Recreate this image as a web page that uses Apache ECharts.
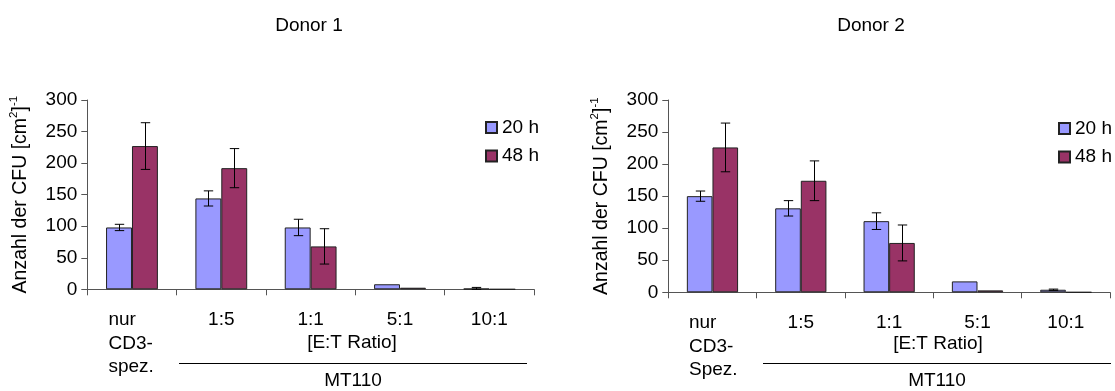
<!DOCTYPE html>
<html>
<head>
<meta charset="utf-8">
<script src="https://cdn.jsdelivr.net/npm/echarts@6/dist/echarts.min.js"></script>
<style>html,body{margin:0;padding:0;background:#fff}#c{width:1115px;height:391px}</style>
</head>
<body>
<div id="c"></div>
<script>
// ---- data ----
const categoriesDonor1 = ['nur\nCD3-\nspez.', '1:5', '1:1', '5:1', '10:1'];
const categoriesDonor2 = ['nur\nCD3-\nSpez.', '1:5', '1:1', '5:1', '10:1'];
const seriesNames = ['20 h', '48 h'];
const donor1_20h = [98, 144, 98, 8, 1];
const donor1_20h_err = [5, 12, 13, 0, 2];
const donor1_48h = [227, 192, 68, 2.5, 0];
const donor1_48h_err = [37, 31, 28, 0, 0];
const donor2_20h = [150, 131, 111, 17, 4];
const donor2_20h_err = [8, 12, 13, 0, 1];
const donor2_48h = [226, 174, 77, 3, 0];
const donor2_48h_err = [38, 31, 28, 0, 0];
const yTicks = { min: 0, max: 300, interval: 50 };
const titles = ['Donor 1', 'Donor 2'];
const groupLabel = '[E:T Ratio]';
const groupName = 'MT110';

// ---- style ----
const FONT = "'Liberation Sans', Arial, sans-serif";
const C20 = '#9999FF', C48 = '#993366';
const GAP = 0.42;
const chart = echarts.init(document.getElementById('c'), null, { renderer: 'canvas' });

function xAxis(cats, gi) {
  return {
    type: 'category', gridIndex: gi, data: cats,
    axisLine: { lineStyle: { color: '#555', width: 1 } },
    axisTick: { show: true, length: 6, lineStyle: { color: '#555' } },
    axisLabel: {
      interval: 0, margin: 19, color: '#000', fontFamily: FONT, fontSize: 19, lineHeight: 23.5,
      formatter: v => v.indexOf('\n') >= 0 ? v.split('\n').map(s => '{l|' + s + '}').join('\n') : v,
      rich: { l: { width: 47, align: 'left', fontSize: 19, lineHeight: 23.5, fontFamily: FONT, color: '#000' } }
    }
  };
}
function yAxis(gi) {
  return {
    type: 'value', gridIndex: gi, min: yTicks.min, max: yTicks.max, interval: yTicks.interval,
    name: '{n|Anzahl der CFU [cm}{s|2}{n|]}{s|-1}',
    nameLocation: 'middle', nameGap: 55, nameRotate: 90,
    nameTextStyle: {
      rich: {
        n: { fontSize: 19.5, fontFamily: FONT, color: '#000', lineHeight: 24 },
        s: { fontSize: 11.5, fontFamily: FONT, color: '#000', verticalAlign: 'top', lineHeight: 12 }
      }
    },
    axisLine: { show: true, lineStyle: { color: '#555', width: 1 } },
    axisTick: { show: true, length: 6, lineStyle: { color: '#555' } },
    splitLine: { show: false },
    axisLabel: { color: '#000', fontFamily: FONT, fontSize: 19, margin: 10 }
  };
}
function bar(name, data, color, gi) {
  return {
    type: 'bar', name, data, xAxisIndex: gi, yAxisIndex: gi,
    barGap: '0%', barCategoryGap: (GAP * 100) + '%',
    itemStyle: { color, borderColor: '#222', borderWidth: 1 },
    emphasis: { disabled: true }, animation: false
  };
}
function errBars(values, errs, side, gi) {
  return {
    type: 'custom', name: 'err' + gi + side, xAxisIndex: gi, yAxisIndex: gi, z: 5,
    data: values.map((v, i) => [i, v, errs[i]]),
    animation: false, silent: true,
    renderItem: (params, api) => {
      const i = api.value(0), v = api.value(1), e = api.value(2);
      if (!e) return;
      const band = api.size([1, 0])[0];
      const bw = band * (1 - GAP) / 2;
      const x = Math.round(api.coord([i, v])[0] + side * bw / 2) + 0.5;
      const yt = api.coord([i, v + e])[1], yb = api.coord([i, Math.max(0, v - e)])[1];
      const cap = 4.7;
      const st = { stroke: '#000', lineWidth: 1 };
      return { type: 'group', children: [
        { type: 'line', shape: { x1: x, y1: yt, x2: x, y2: yb }, style: st },
        { type: 'line', shape: { x1: x - cap, y1: yt, x2: x + cap, y2: yt }, style: st },
        { type: 'line', shape: { x1: x - cap, y1: yb, x2: x + cap, y2: yb }, style: st }
      ] };
    }
  };
}
function legend(left, top) {
  return {
    data: seriesNames, orient: 'vertical', left, top, icon: 'rect',
    itemWidth: 11, itemHeight: 11, itemGap: 9.5,
    textStyle: { fontFamily: FONT, fontSize: 19, color: '#000' },
    selectedMode: false
  };
}
function txt(x, y, s) {
  return { type: 'text', x, y, style: { text: s, font: '19px ' + FONT, fill: '#000', align: 'center', verticalAlign: 'middle' } };
}

const option = {
  animation: false,
  title: [
    { text: titles[0], left: 304, top: 11, textAlign: 'center', textStyle: { fontFamily: FONT, fontSize: 19, fontWeight: 'normal', color: '#000' } },
    { text: titles[1], left: 866, top: 11, textAlign: 'center', textStyle: { fontFamily: FONT, fontSize: 19, fontWeight: 'normal', color: '#000' } }
  ],
  legend: [legend(480, 113), legend(1053, 114)],
  grid: [
    { left: 87.3, right: 581, top: 100, bottom: 101.7 },
    { left: 668.3, right: 5, top: 100, bottom: 98.7 }
  ],
  xAxis: [xAxis(categoriesDonor1, 0), xAxis(categoriesDonor2, 1)],
  yAxis: [yAxis(0), yAxis(1)],
  series: [
    bar(seriesNames[0], donor1_20h, C20, 0),
    bar(seriesNames[1], donor1_48h, C48, 0),
    bar(seriesNames[0], donor2_20h, C20, 1),
    bar(seriesNames[1], donor2_48h, C48, 1),
    errBars(donor1_20h, donor1_20h_err, -1, 0),
    errBars(donor1_48h, donor1_48h_err, 1, 0),
    errBars(donor2_20h, donor2_20h_err, -1, 1),
    errBars(donor2_48h, donor2_48h_err, 1, 1)
  ],
  graphic: [
    txt(352, 343, groupLabel),
    { type: 'line', shape: { x1: 179, y1: 363.5, x2: 527, y2: 363.5 }, style: { stroke: '#000', lineWidth: 1 } },
    txt(353, 381, groupName),
    txt(938, 344, groupLabel),
    { type: 'line', shape: { x1: 763, y1: 363.5, x2: 1111, y2: 363.5 }, style: { stroke: '#000', lineWidth: 1 } },
    txt(937, 381, groupName)
  ]
};
chart.setOption(option);
</script>
</body>
</html>
